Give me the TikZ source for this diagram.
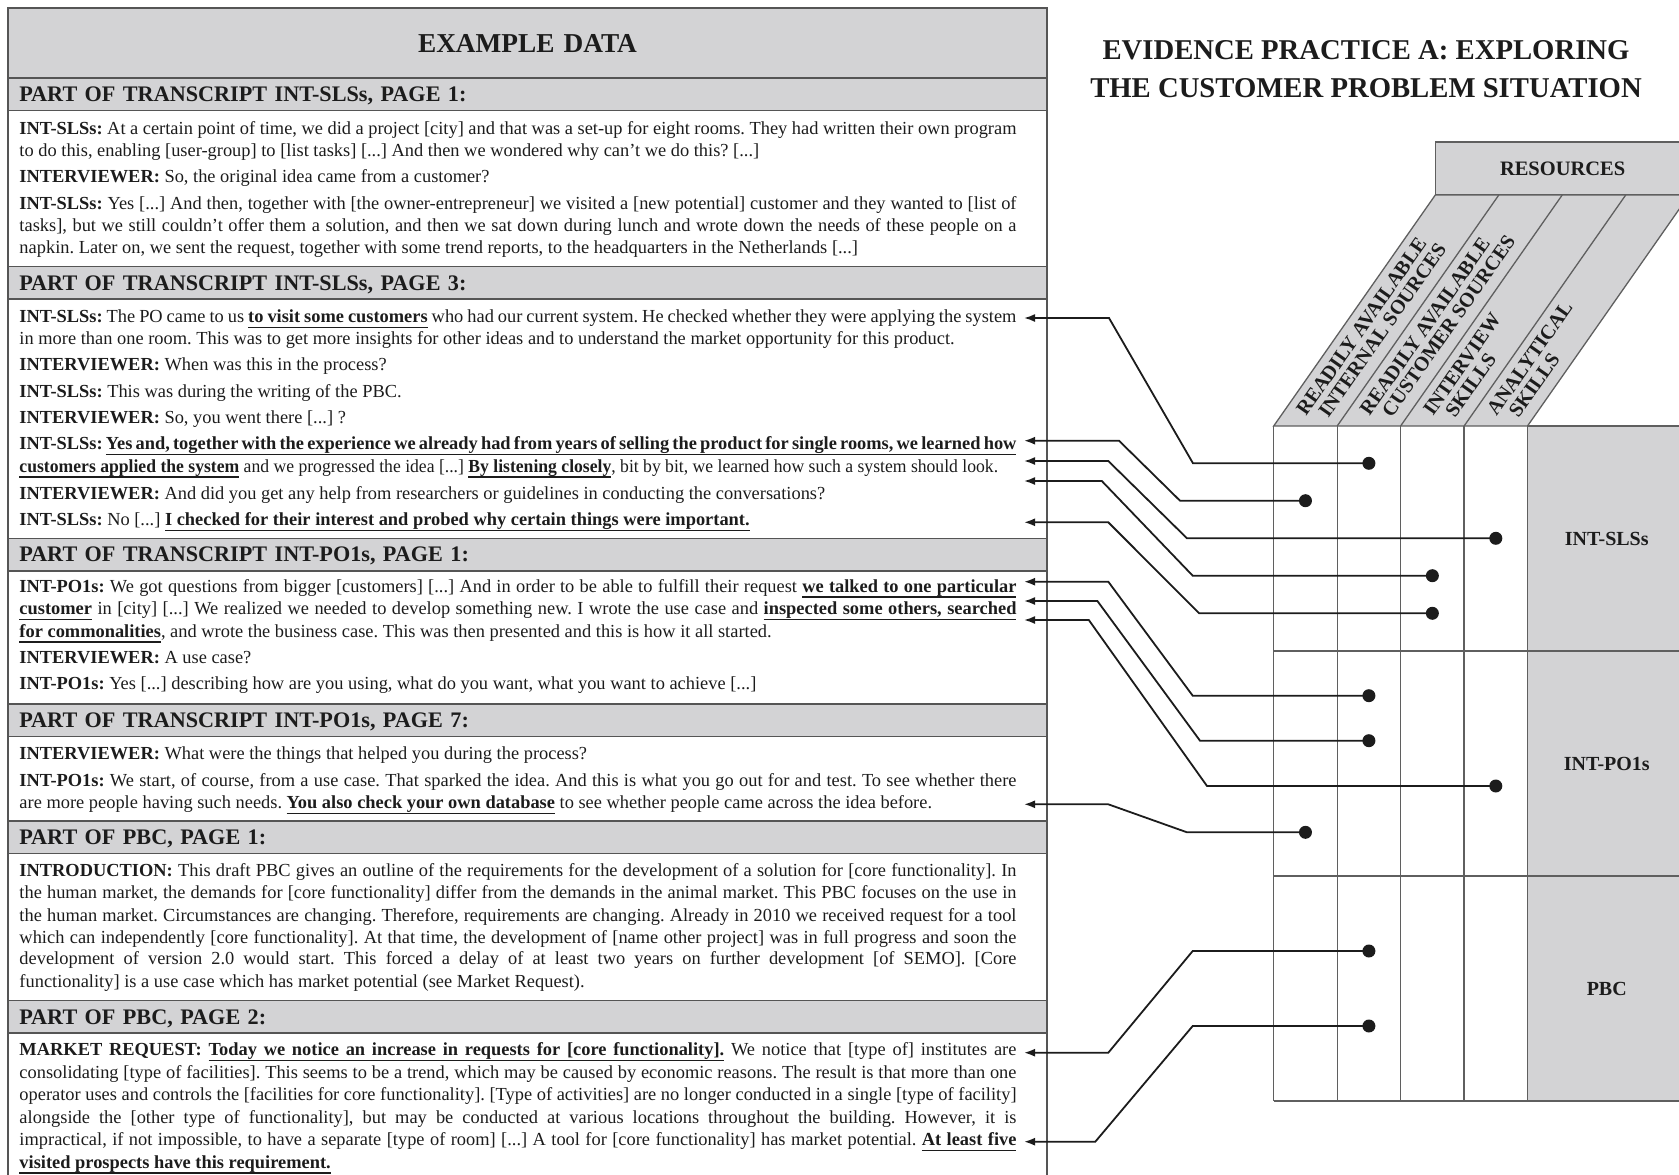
\documentclass[tikz,border=0pt]{standalone}
\usepackage{fontspec}
\usepackage{graphicx}
\setmainfont{Liberation Serif}
\usetikzlibrary{arrows.meta}

\definecolor{panelgray}{RGB}{211,211,213}
\definecolor{rulegray}{RGB}{85,85,85}
\definecolor{gridline}{RGB}{95,95,95}
\definecolor{inkblack}{RGB}{28,28,28}

% type sizes
\newcommand\bodyfont{\fontsize{18.4pt}{22pt}\selectfont}
\newcommand\hdrfont{\fontsize{22.2pt}{26pt}\selectfont\bfseries}
\newcommand\exfont{\fontsize{27.3pt}{30pt}\selectfont\bfseries}
\newcommand\ttlfont{\fontsize{28.7pt}{32pt}\selectfont\bfseries}
\newcommand\resfont{\fontsize{20.5pt}{24pt}\selectfont\bfseries}
\newcommand\rowfont{\fontsize{20pt}{24pt}\selectfont\bfseries}
\newcommand\colfont{\fontsize{20.2pt}{22pt}\selectfont\bfseries}

% speaker tags
\newcommand\spk[1]{\textbf{#1}}

% bold underlined passage; spaces keep their stretch so lines can be justified
\makeatletter
\def\ulb@top{-4.0pt}
\def\ulb@bot{5.4pt}
\def\ulb@word#1{\setbox0\hbox{#1}%
  \rlap{\vrule height \ulb@top depth \ulb@bot width \wd0}\box0}
\def\ulb@loop#1 #2\@nil{%
  \ulb@word{#1}%
  \if\relax\detokenize{#2}\relax\else
    \leaders\hrule height \ulb@top depth \ulb@bot
      \hskip\fontdimen2\font plus\fontdimen3\font minus\fontdimen4\font
    \ulb@loop#2\@nil
  \fi}
\newcommand\ulb[1]{{\bfseries\ulb@loop#1 \@nil}}
\makeatother

% one transcript line: justified to the column width, or left at its natural width
\newlength\bodyw
\setlength\bodyw{997pt}
\newcommand\JustLine[3]{\node[txt] (#1) at (19.3,#2) {\hbox to\bodyw{#3}};}
\newcommand\LastLine[3]{\node[txt] (#1) at (19.3,#2) {#3};}

\begin{document}
\frenchspacing
\begin{tikzpicture}[x=1pt,y=-1pt,
  txt/.style={anchor=base west, inner sep=0pt, font=\bodyfont, text=inkblack},
  hdrbox/.style={draw=rulegray, line width=1.6pt, fill=panelgray,
    minimum width=1039pt, minimum height=32.5pt, text width=1016.4pt,
    inner xsep=11.3pt, inner ysep=0pt, align=left, font=\hdrfont,
    text=inkblack, text height=14.7pt, text depth=0pt},
  gridhdr/.style={draw=gridline, line width=1.3pt, fill=panelgray,
    text=inkblack, inner sep=0pt},
  collab/.style={rotate=55, anchor=base west, inner sep=0pt,
    font=\colfont, text=inkblack},
  dot/.style={circle, fill=inkblack, inner sep=0pt, minimum size=13pt},
  conn/.style={draw=inkblack, line width=1.8pt,
    -{Latex[length=11pt,width=8pt]}}]

\useasboundingbox (0,0) rectangle (1679,1175);

% ---------- left column: example data ----------
\draw[draw=rulegray, line width=1.4pt] (8,1190) -- (8,8) -- (1047,8) -- (1047,1190);

\node[hdrbox, minimum height=69.6pt, align=center, font=\exfont,
      text height=18.1pt] (exhdr) at (527.5,43.4) {EXAMPLE DATA};

\node[hdrbox] (h1) at (527.5,94.25) {PART OF TRANSCRIPT INT-SLSs, PAGE 1:};
\node[hdrbox] (h2) at (527.5,282.7) {PART OF TRANSCRIPT INT-SLSs, PAGE 3:};
\node[hdrbox] (h3) at (527.5,554.6) {PART OF TRANSCRIPT INT-PO1s, PAGE 1:};
\node[hdrbox] (h4) at (527.5,720.1) {PART OF TRANSCRIPT INT-PO1s, PAGE 7:};
\node[hdrbox] (h5) at (527.5,837.4) {PART OF PBC, PAGE 1:};
\node[hdrbox] (h6) at (527.5,1016.7) {PART OF PBC, PAGE 2:};

% transcript INT-SLSs, page 1
\JustLine{s1a}{134}{\spk{INT-SLSs:} At a certain point of time, we did a project [city] and that was a set-up for eight rooms. They had written their own program}
\LastLine{s1b}{156.5}{to do this, enabling [user-group] to [list tasks] [...] And then we wondered why can’t we do this? [...]}
\LastLine{s1c}{182.2}{\spk{INTERVIEWER:} So, the original idea came from a customer?}
\JustLine{s1d}{209}{\spk{INT-SLSs:} Yes [...] And then, together with [the owner-entrepreneur] we visited a [new potential] customer and they wanted to [list of}
\JustLine{s1e}{231.5}{tasks], but we still couldn’t offer them a solution, and then we sat down during lunch and wrote down the needs of these people on a}
\LastLine{s1f}{253.9}{napkin. Later on, we sent the request, together with some trend reports, to the headquarters in the Netherlands [...]}

% transcript INT-SLSs, page 3
\JustLine{s2a}{322.5}{\spk{INT-SLSs:} The PO came to us \ulb{to visit some customers} who had our current system. He checked whether they were applying the system}
\LastLine{s2b}{344.9}{in more than one room. This was to get more insights for other ideas and to understand the market opportunity for this product.}
\LastLine{s2c}{370.6}{\spk{INTERVIEWER:} When was this in the process?}
\LastLine{s2d}{397.4}{\spk{INT-SLSs:} This was during the writing of the PBC.}
\LastLine{s2e}{423.1}{\spk{INTERVIEWER:} So, you went there [...] ?}
\JustLine{s2f}{449.9}{\spk{INT-SLSs:} \ulb{Yes and, together with the experience we already had from years of selling the product for single rooms, we learned how}}
\LastLine{s2g}{472.4}{\scalebox{0.958}[1]{\ulb{customers applied the system} and we progressed the idea [...] \ulb{By listening closely}, bit by bit, we learned how such a system should look.}}
\LastLine{s2h}{499.1}{\spk{INTERVIEWER:} And did you get any help from researchers or guidelines in conducting the conversations?}
\LastLine{s2i}{525.9}{\spk{INT-SLSs:} No [...] \ulb{I checked for their interest and probed why certain things were important.}}

% transcript INT-PO1s, page 1
\JustLine{s3a}{592.3}{\spk{INT-PO1s:} We got questions from bigger [customers] [...] And in order to be able to fulfill their request \ulb{we talked to one particular}}
\JustLine{s3b}{614.8}{\ulb{customer} in [city] [...] We realized we needed to develop something new. I wrote the use case and \ulb{inspected some others, searched}}
\LastLine{s3c}{637.3}{\ulb{for commonalities}, and wrote the business case. This was then presented and this is how it all started.}
\LastLine{s3d}{663}{\spk{INTERVIEWER:} A use case?}
\LastLine{s3e}{689.7}{\spk{INT-PO1s:} Yes [...] describing how are you using, what do you want, what you want to achieve [...]}

% transcript INT-PO1s, page 7
\LastLine{s4a}{759.3}{\spk{INTERVIEWER:} What were the things that helped you during the process?}
\JustLine{s4b}{786.1}{\spk{INT-PO1s:} We start, of course, from a use case. That sparked the idea. And this is what you go out for and test. To see whether there}
\LastLine{s4c}{808.6}{are more people having such needs. \ulb{You also check your own database} to see whether people came across the idea before.}

% PBC, page 1
\JustLine{s5a}{876.1}{\spk{INTRODUCTION:} This draft PBC gives an outline of the requirements for the development of a solution for [core functionality]. In}
\JustLine{s5b}{898.5}{the human market, the demands for [core functionality] differ from the demands in the animal market. This PBC focuses on the use in}
\JustLine{s5c}{921}{the human market. Circumstances are changing. Therefore, requirements are changing. Already in 2010 we received request for a tool}
\JustLine{s5d}{943.5}{which can independently [core functionality]. At that time, the development of [name other project] was in full progress and soon the}
\JustLine{s5e}{964.9}{development of version 2.0 would start. This forced a delay of at least two years on further development [of SEMO]. [Core}
\LastLine{s5f}{987.4}{functionality] is a use case which has market potential (see Market Request).}

% PBC, page 2
\JustLine{s6a}{1055.9}{\spk{MARKET REQUEST:} \ulb{Today we notice an increase in requests for [core functionality].} We notice that [type of] institutes are}
\JustLine{s6b}{1078.5}{consolidating [type of facilities]. This seems to be a trend, which may be caused by economic reasons. The result is that more than one}
\JustLine{s6c}{1100.9}{operator uses and controls the [facilities for core functionality]. [Type of activities] are no longer conducted in a single [type of facility]}
\JustLine{s6d}{1123.4}{alongside the [other type of functionality], but may be conducted at various locations throughout the building. However, it is}
\JustLine{s6e}{1145.9}{impractical, if not impossible, to have a separate [type of room] [...] A tool for [core functionality] has market potential. \ulb{At least five}}
\LastLine{s6f}{1168.4}{\ulb{visited prospects have this requirement.}}

% ---------- right column: evidence matrix ----------
\node[anchor=base, font=\ttlfont, text=inkblack, inner sep=0pt] (ttl1) at (1366,59.2) {EVIDENCE PRACTICE A: EXPLORING};
\node[anchor=base, font=\ttlfont, text=inkblack, inner sep=0pt] (ttl2) at (1366,97.6) {THE CUSTOMER PROBLEM SITUATION};

\node[gridhdr, minimum width=254.7pt, minimum height=53pt, font=\resfont,
      text height=13.6pt, text depth=0pt] (res) at (1562.65,168.5) {RESOURCES};

% slanted resource headers
\filldraw[fill=panelgray, draw=gridline, line width=1.3pt]
  (1273.7,426) -- (1527.5,426) -- (1689.1,195) -- (1435.3,195) -- cycle;
\foreach \x in {1337.2,1400.6,1464.1}
  \draw[gridline, line width=1.3pt] (\x,426) -- (\x+161.6,195);

\foreach \x/\la/\lb [count=\i] in {
    1273.7/READILY AVAILABLE/INTERNAL SOURCES,
    1337.2/READILY AVAILABLE/CUSTOMER SOURCES,
    1400.6/INTERVIEW/SKILLS,
    1464.1/ANALYTICAL/SKILLS}{
  \node[collab] (colA\i) at (\x+32.4,417.1) {\la};
  \node[collab] (colB\i) at (\x+54.5,418.8) {\lb};
}

% row headers
\node[gridhdr, minimum width=158.5pt, minimum height=225pt, font=\rowfont,
      text height=13.2pt, text depth=0pt] (rSLS) at (1606.75,538.5) {INT-SLSs};
\node[gridhdr, minimum width=158.5pt, minimum height=225pt, font=\rowfont,
      text height=13.2pt, text depth=0pt] (rPO) at (1606.75,763.5) {INT-PO1s};
\node[gridhdr, minimum width=158.5pt, minimum height=225pt, font=\rowfont,
      text height=13.2pt, text depth=0pt] (rPBC) at (1606.75,988.5) {PBC};

% matrix cells
\foreach \x in {1273.7,1337.2,1400.6,1464.1}
  \draw[gridline, line width=1.3pt] (\x,426) -- (\x,1101);
\foreach \y in {651,876,1101}
  \draw[gridline, line width=1.3pt] (1273.7,\y) -- (1527.5,\y);

% evidence links: matrix cell -> quoted passage
\foreach \ty/\bx/\kx/\dx/\dy [count=\i] in {
    318/1109/1193/1368.9/463.3,
    440.7/1119/1180/1305.45/500.7,
    461/1108.3/1187/1495.8/538.3,
    481/1101.8/1192.7/1432.35/575.7,
    522.3/1108.3/1199.2/1432.35/613.3,
    581.7/1108.3/1192.7/1368.9/695.7,
    601/1097.4/1200/1368.9/740.7,
    620/1088.8/1207/1495.8/786,
    804.3/1108.3/1187/1305.45/832.3,
    1052.7/1108.3/1192.7/1368.9/951,
    1141.7/1095.3/1192.7/1368.9/1026}{
  \coordinate (tip\i) at (1024,\ty);
  \node[dot] (dot\i) at (\dx,\dy) {};
  \draw[conn] (dot\i.center) -- (\kx,\dy) -- (\bx,\ty) -- (tip\i);
}

\end{tikzpicture}
\end{document}
